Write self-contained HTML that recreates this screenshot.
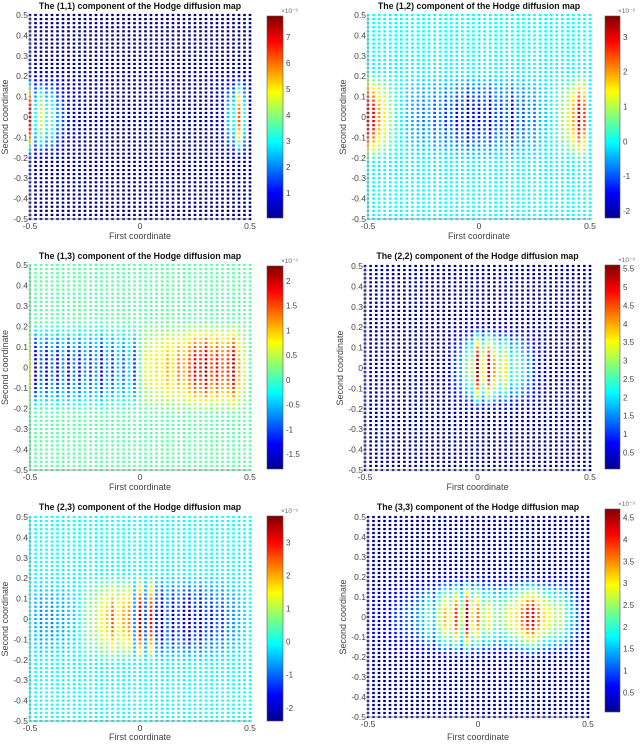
<!DOCTYPE html>
<html><head><meta charset="utf-8">
<style>
html,body{margin:0;padding:0;background:#fff;}
svg{display:block;font-family:"Liberation Sans",sans-serif;}
</style></head>
<body>
<svg id="fig" width="640" height="745" viewBox="0 0 640 745" xmlns="http://www.w3.org/2000/svg">
<defs>
<linearGradient id="jet" x1="0" y1="1" x2="0" y2="0">
<stop offset="0" stop-color="#00008f"/><stop offset="0.125" stop-color="#0000ff"/>
<stop offset="0.375" stop-color="#00ffff"/><stop offset="0.625" stop-color="#ffff00"/>
<stop offset="0.875" stop-color="#ff0000"/><stop offset="1" stop-color="#800000"/>
</linearGradient>
</defs>
</svg>
<script>
// shared row envelope for y in [-0.2, 0.2] step 0.02 (21 values)
const rowEnv = [0.12,0.22,0.35,0.5,0.62,0.72,0.82,0.9,0.96,1,1,1,0.96,0.9,0.82,0.72,0.62,0.5,0.35,0.22,0.12];
// column amplitudes (x = -0.5 .. 0.5 step 0.025, 41 values), units 1e-3
const amp11 = [7.5,3,4.5,3.2,3.5,2,1.5,0.8,0.5,0.3,0.2,0.1,0,0,0,0,0,0,0,0,0,0,0,0,0,0,0,0,0,0,0,0,0,0.2,0.4,1,2.5,3,6,3,0];
const amp12 = [3.5,3,2,1.5,0.8,0.3,0,-0.3,-0.5,-0.6,-0.8,-0.5,-1,-0.7,-1.2,-0.9,-1.5,-1.1,-2,-1.4,-1.5,-1.2,-1.8,-1,-1.2,-0.9,-1.6,-0.8,-1,-0.6,-0.8,-0.4,-0.3,0,0.3,0.8,1.2,2,3.2,2.5,0];
const amp13 = [0.5,-1.8,-1,-1.6,-0.9,-1.5,-0.8,-1.5,-0.9,-1.4,-0.8,-1.2,-0.8,-1.6,-0.7,-1.2,-0.6,-1,-0.5,-1.2,0,0.5,0.6,0.8,0.7,1,0.8,1.2,1,1.4,1.8,1.6,2.1,1.4,1.7,1.3,1.5,2,1,0.5,0];
const amp22 = [0.5,0,0,0,0,0,0,0,0,0,0,0,0,0,0,0.5,1,1.5,2.5,3,5.5,3.5,5.2,4,3,3.5,2.2,2.5,2,1.5,1,0.5,0.3,0,0,0,0,0,0,0,0];
const amp23 = [0,-0.5,-0.8,-0.6,-0.8,-0.5,-0.6,-0.4,-0.3,0,0.5,0.8,1,1.5,1.8,2.5,1.5,2,2.2,-0.8,3.5,-1.2,3,-1.5,-2.2,-1,-2,-1.2,-1.8,-2.3,-1.4,-2.2,-1.2,-1.6,-1,-1.3,-0.8,-0.8,-0.5,-0.3,0];
const amp33 = [0,0.3,0.3,0.5,0.5,0.8,0.8,1,1,1.2,1.5,2,1.5,2.5,3.2,2.8,3.8,2.5,4.5,3,3.5,2.5,2.8,2.3,2.2,2.5,2.8,3,3.5,4,4.2,3.5,3,2.8,2.5,2.5,2,1.5,1,0.5,0];
const base = [0.1, 0, 0.1, 0.1, 0, 0.1];
const cmins = [0.05, -2.2, -1.8, 0.05, -2.4, 0.05];
const cmaxs = [7.8, 3.6, 2.3, 5.6, 3.8, 4.7];
const ticks11 = [1,2,3,4,5,6,7];
const ticks12 = [-2,-1,0,1,2,3];
const ticks13 = [-1.5,-1,-0.5,0,0.5,1,1.5,2];
const ticks22 = [0.5,1,1.5,2,2.5,3,3.5,4,4.5,5,5.5];
const ticks23 = [-2,-1,0,1,2,3];
const ticks33 = [0.5,1,1.5,2,2.5,3,3.5,4,4.5];
const titles = ["(1,1)","(1,2)","(1,3)","(2,2)","(2,3)","(3,3)"];
const yTicks = [-0.5,-0.4,-0.3,-0.2,-0.1,0,0.1,0.2,0.3,0.4,0.5];
const xTicks = [-0.5,0,0.5];

const amps = [amp11,amp12,amp13,amp22,amp23,amp33];
const tickSets = [ticks11,ticks12,ticks13,ticks22,ticks23,ticks33];
const layout = [
 {p:[30,15,250,219], cb:[267,16,283,218], ty:9, xl:239},
 {p:[368,15,590,219], cb:[605,16,620,218], ty:9, xl:239},
 {p:[30,265,250,470], cb:[267,266,283,469], ty:259, xl:490},
 {p:[365,266,590,470], cb:[605,265,620,469], ty:259, xl:490},
 {p:[30,517,250,721], cb:[267,516,283,721], ty:510, xl:740},
 {p:[368,517,588,717], cb:[605,509,620,712], ty:510, xl:740}
];
const NS="http://www.w3.org/2000/svg";
const svg=document.getElementById('fig');
function mk(t,a,parent){const e=document.createElementNS(NS,t);for(const k in a)e.setAttribute(k,a[k]);(parent||svg).appendChild(e);return e;}
function jet(t){t=Math.max(0,Math.min(1,t));
 const f=(x)=>Math.max(0,Math.min(1,x));
 const r=f(Math.min(4*t-1.5,-4*t+4.5)),g=f(Math.min(4*t-0.5,-4*t+3.5)),b=f(Math.min(4*t+0.5,-4*t+2.5));
 return `rgb(${Math.round(r*255)},${Math.round(g*255)},${Math.round(b*255)})`;}
function envAt(y){const k=Math.round((y+0.2)/0.02);return (k>=0&&k<rowEnv.length)?rowEnv[k]:0;}

for(let pi=0;pi<6;pi++){
 const L=layout[pi];const [x0,y0,x1,y1]=L.p;
 const g=mk('g',{});
 
 
 const sx=v=>x0+(v+0.5)*(x1-x0);
 const sy=v=>y1-(v+0.5)*(y1-y0);
 const cmin=cmins[pi],cmax=cmaxs[pi];
 const dots=mk('g',{},g);
 
 
 const A=amps[pi];
 for(let i=0;i<A.length;i++){
  const xv=-0.5+i*0.025;
  for(let j=0;j<51;j++){
   const yv=-0.5+j*0.02;
   const val=base[pi]+A[i]*envAt(yv);
   const r=mk('rect',{x:(sx(xv)-1.3).toFixed(2),y:(sy(yv)-1.1).toFixed(2),width:2.6,height:2.2,fill:jet((val-cmin)/(cmax-cmin))},dots);
   
   
  }
 }
 const ax=mk('path',{d:`M${x0} ${y0}V${y1}H${x1}`,stroke:'#888',fill:'none','stroke-width':0.8},g);
 
 
 yTicks.forEach(v=>{
  const t=mk('text',{x:x0-2,y:sy(v)+3,'text-anchor':'end','font-size':8.5,fill:'#444'},g);
  t.textContent=String(v);
  
  
 });
 xTicks.forEach(v=>{
  const t=mk('text',{x:sx(v),y:y1+10,'text-anchor':'middle','font-size':8.5,fill:'#444'},g);
  t.textContent=String(v);
  
  
 });
 const tt=mk('text',{x:(x0+x1)/2,y:L.ty,'text-anchor':'middle','font-size':8.8,'font-weight':'bold',fill:'#111'},g);
 tt.textContent=`The ${titles[pi]} component of the Hodge diffusion map`;
 
 
 const xl=mk('text',{x:(x0+x1)/2,y:L.xl,'text-anchor':'middle','font-size':9,fill:'#444'},g);
 xl.textContent='First coordinate';
 
 
 const ylx=x0-22,yly=(y0+y1)/2;
 const yl=mk('text',{x:ylx,y:yly,'text-anchor':'middle','font-size':9,fill:'#444',transform:`rotate(-90 ${ylx} ${yly})`},g);
 yl.textContent='Second coordinate';
 
 
 const [cx0,cy0,cx1,cy1]=L.cb;
 const cb=mk('rect',{x:cx0,y:cy0,width:cx1-cx0,height:cy1-cy0,fill:'url(#jet)',stroke:'#555','stroke-width':0.6},g);
 
 
 const cyv=v=>cy1-(v-cmin)/(cmax-cmin)*(cy1-cy0);
 tickSets[pi].forEach(v=>{
  const t=mk('text',{x:cx1+3,y:cyv(v)+3,'font-size':8,fill:'#444'},g);
  t.textContent=String(v);
  
  
 });
 const ex=mk('text',{x:cx1-2,y:cy0-3,'font-size':6.5,fill:'#666'},g);
 ex.textContent='×10⁻³';
 
 
}
</script>
</body></html>
